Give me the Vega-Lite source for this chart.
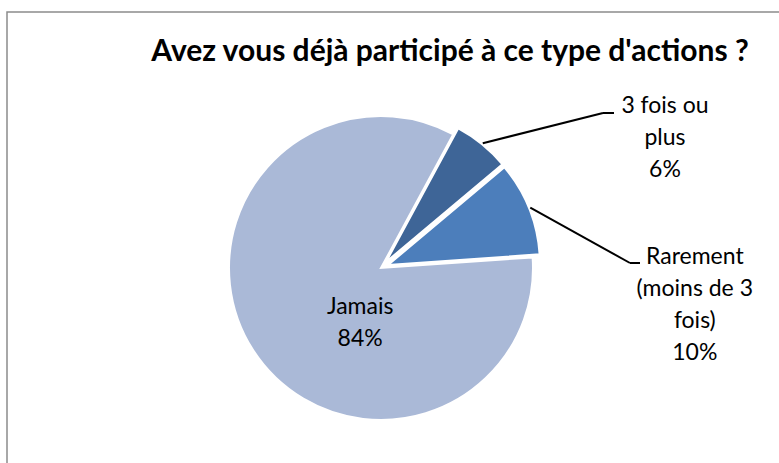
{
  "$schema": "https://vega.github.io/schema/vega-lite/v6.json",
  "autosize": {"type": "none"},
  "padding": {"left": 7, "top": 12, "right": 0, "bottom": 0},
  "width": 790,
  "height": 512,
  "background": "white",
  "view": {"stroke": "#8C8C8C", "strokeWidth": 1.5, "fill": "white"},
  "title": {
    "text": "Avez vous déjà participé à ce type d'actions ?",
    "font": "Lato",
    "fontSize": 30,
    "fontWeight": "bold",
    "color": "black",
    "anchor": "middle",
    "baseline": "alphabetic",
    "offset": -79,
    "dx": 48
  },
  "data": {
    "values": [
      {"reponse": "Jamais", "pct": 84, "ordre": 1, "etiquette": "Jamais\n84%"},
      {"reponse": "3 fois ou plus", "pct": 6, "ordre": 2, "etiquette": "3 fois ou\nplus\n6%"},
      {"reponse": "Rarement (moins de 3 fois)", "pct": 10, "ordre": 3, "etiquette": "Rarement\n(moins de 3\nfois)\n10%"}
    ]
  },
  "transform": [
    {"stack": "pct", "groupby": [], "sort": [{"field": "ordre"}], "as": ["debut", "fin"]},
    {"calculate": "(datum.debut + datum.fin) / 2", "as": "milieu"}
  ],
  "layer": [
    {
      "transform": [{"filter": "datum.ordre == 1"}],
      "mark": {"type": "arc", "outerRadius": 152, "stroke": "white", "strokeWidth": 2, "xOffset": -21},
      "encoding": {
        "theta": {"field": "debut", "type": "quantitative", "stack": null, "scale": {"domain": [0, 100], "range": [1.501, 7.784]}},
        "theta2": {"field": "fin"},
        "color": {"field": "reponse", "type": "nominal", "legend": null,
          "scale": {"domain": ["Jamais", "3 fois ou plus", "Rarement (moins de 3 fois)"], "range": ["#AAB9D7", "#3E6597", "#4C7EBB"]}}
      }
    },
    {
      "transform": [{"filter": "datum.ordre == 2"}],
      "mark": {"type": "arc", "outerRadius": 152, "stroke": "white", "strokeWidth": 2, "xOffset": -16, "yOffset": -6},
      "encoding": {
        "theta": {"field": "debut", "type": "quantitative", "stack": null},
        "theta2": {"field": "fin"},
        "color": {"field": "reponse", "type": "nominal", "legend": null}
      }
    },
    {
      "transform": [{"filter": "datum.ordre == 3"}],
      "mark": {"type": "arc", "outerRadius": 152, "stroke": "white", "strokeWidth": 2, "xOffset": -14, "yOffset": -3},
      "encoding": {
        "theta": {"field": "debut", "type": "quantitative", "stack": null},
        "theta2": {"field": "fin"},
        "color": {"field": "reponse", "type": "nominal", "legend": null}
      }
    },
    {
      "transform": [
        {"filter": "datum.ordre != 1"},
        {"calculate": "1.501 + 2 * PI * datum.milieu / 100", "as": "angle"},
        {"calculate": "width / 2 - 21 + 161 * sin(datum.angle)", "as": "sx"},
        {"calculate": "height / 2 - 161 * cos(datum.angle)", "as": "sy"},
        {"calculate": "width / 2 - 21 + (datum.ordre == 2 ? 222 : 249)", "as": "bx"},
        {"calculate": "height / 2 + (datum.ordre == 2 ? -155 : -5)", "as": "by"}
      ],
      "mark": {"type": "rule", "color": "black", "strokeWidth": 2},
      "encoding": {
        "x": {"field": "sx", "type": "quantitative", "scale": null},
        "y": {"field": "sy", "type": "quantitative", "scale": null},
        "x2": {"field": "bx"},
        "y2": {"field": "by"}
      }
    },
    {
      "transform": [
        {"filter": "datum.ordre != 1"},
        {"calculate": "width / 2 - 21 + (datum.ordre == 2 ? 222 : 249)", "as": "bx"},
        {"calculate": "width / 2 - 21 + (datum.ordre == 2 ? 233 : 259)", "as": "ex"},
        {"calculate": "height / 2 + (datum.ordre == 2 ? -155 : -5)", "as": "by"}
      ],
      "mark": {"type": "rule", "color": "black", "strokeWidth": 2},
      "encoding": {
        "x": {"field": "bx", "type": "quantitative", "scale": null},
        "y": {"field": "by", "type": "quantitative", "scale": null},
        "x2": {"field": "ex"}
      }
    },
    {
      "transform": [{"filter": "datum.ordre == 1"}],
      "mark": {"type": "text", "radius": 44, "thetaOffset": -0.504, "xOffset": -21, "font": "Lato", "fontSize": 23, "lineBreak": "\n", "lineHeight": 32, "align": "center", "baseline": "middle", "color": "black"},
      "encoding": {
        "theta": {"field": "milieu", "type": "quantitative", "stack": null},
        "text": {"field": "etiquette"}
      }
    },
    {
      "transform": [{"filter": "datum.ordre == 2"}],
      "mark": {"type": "text", "radius": 327, "thetaOffset": 0.368, "xOffset": -21, "font": "Lato", "fontSize": 23, "lineBreak": "\n", "lineHeight": 32, "align": "center", "baseline": "middle", "color": "black"},
      "encoding": {
        "theta": {"field": "milieu", "type": "quantitative", "stack": null},
        "text": {"field": "etiquette"}
      }
    },
    {
      "transform": [{"filter": "datum.ordre == 3"}],
      "mark": {"type": "text", "radius": 314, "thetaOffset": 0.349, "xOffset": -21, "font": "Lato", "fontSize": 23, "lineBreak": "\n", "lineHeight": 32, "align": "center", "baseline": "middle", "color": "black"},
      "encoding": {
        "theta": {"field": "milieu", "type": "quantitative", "stack": null},
        "text": {"field": "etiquette"}
      }
    }
  ]
}
